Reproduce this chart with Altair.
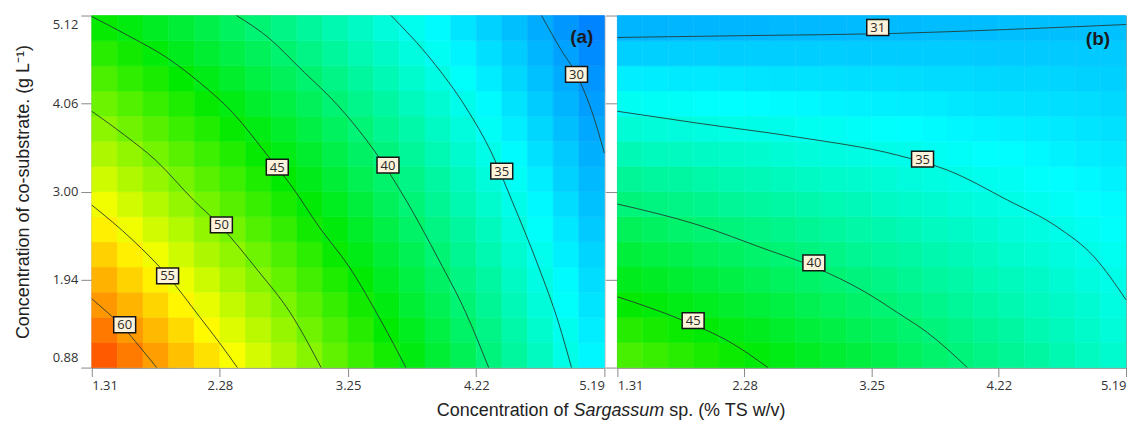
import altair as alt
import numpy as np
import pandas as pd

# ---------------- data ----------------
X_TICKS = [1.31, 2.28, 3.25, 4.22, 5.19]
Y_TICKS = [0.88, 1.94, 3.00, 4.06, 5.12]
X_RANGE = [1.31, 5.19]
Y_RANGE = [0.88, 5.12]

# response surface values, rows from bottom (0.88) to top (5.12), columns left to right
GRID_A = [
    [62.1, 60.7, 59.2, 57.7, 56.3, 54.8, 53.3, 51.8, 50.3, 48.8, 47.3, 45.8, 44.3, 42.8, 41.3, 39.7, 38.2, 36.7, 35.1, 33.6],
    [60.8, 59.4, 58.0, 56.6, 55.2, 53.7, 52.3, 50.9, 49.4, 48.0, 46.5, 45.0, 43.6, 42.1, 40.6, 39.2, 37.7, 36.2, 34.7, 33.2],
    [59.5, 58.2, 56.8, 55.4, 54.1, 52.7, 51.3, 49.9, 48.5, 47.1, 45.7, 44.3, 42.8, 41.4, 40.0, 38.6, 37.1, 35.7, 34.2, 32.8],
    [58.3, 56.9, 55.6, 54.3, 53.0, 51.6, 50.3, 48.9, 47.6, 46.2, 44.9, 43.5, 42.1, 40.7, 39.4, 38.0, 36.6, 35.2, 33.8, 32.4],
    [57.0, 55.7, 54.4, 53.1, 51.8, 50.6, 49.3, 48.0, 46.7, 45.3, 44.0, 42.7, 41.4, 40.0, 38.7, 37.4, 36.0, 34.7, 33.3, 32.0],
    [55.7, 54.4, 53.2, 52.0, 50.7, 49.5, 48.2, 47.0, 45.7, 44.5, 43.2, 41.9, 40.6, 39.4, 38.1, 36.8, 35.5, 34.2, 32.9, 31.5],
    [54.4, 53.2, 52.0, 50.8, 49.6, 48.4, 47.2, 46.0, 44.8, 43.6, 42.4, 41.1, 39.9, 38.7, 37.4, 36.2, 34.9, 33.7, 32.4, 31.1],
    [53.1, 51.9, 50.8, 49.7, 48.5, 47.4, 46.2, 45.0, 43.9, 42.7, 41.5, 40.4, 39.2, 38.0, 36.8, 35.6, 34.4, 33.2, 31.9, 30.7],
    [51.8, 50.7, 49.6, 48.5, 47.4, 46.3, 45.2, 44.1, 43.0, 41.8, 40.7, 39.6, 38.4, 37.3, 36.1, 35.0, 33.8, 32.6, 31.5, 30.3],
    [50.5, 49.4, 48.4, 47.3, 46.3, 45.2, 44.2, 43.1, 42.0, 40.9, 39.9, 38.8, 37.7, 36.6, 35.5, 34.4, 33.2, 32.1, 31.0, 29.9],
    [49.2, 48.2, 47.2, 46.2, 45.2, 44.2, 43.1, 42.1, 41.1, 40.1, 39.0, 38.0, 36.9, 35.9, 34.8, 33.8, 32.7, 31.6, 30.5, 29.5],
    [47.9, 46.9, 46.0, 45.0, 44.0, 43.1, 42.1, 41.1, 40.2, 39.2, 38.2, 37.2, 36.2, 35.2, 34.2, 33.1, 32.1, 31.1, 30.1, 29.0],
    [46.6, 45.7, 44.7, 43.8, 42.9, 42.0, 41.1, 40.2, 39.2, 38.3, 37.3, 36.4, 35.4, 34.5, 33.5, 32.5, 31.6, 30.6, 29.6, 28.6],
    [45.2, 44.4, 43.5, 42.7, 41.8, 40.9, 40.0, 39.2, 38.3, 37.4, 36.5, 35.6, 34.7, 33.8, 32.8, 31.9, 31.0, 30.1, 29.1, 28.2],
]

GRID_B = [
    [47.8, 47.2, 46.6, 46.0, 45.4, 44.7, 44.1, 43.5, 42.9, 42.3, 41.7, 41.0, 40.4, 39.8, 39.2, 38.6, 38.0, 37.4, 36.7, 36.1],
    [46.5, 45.9, 45.4, 44.8, 44.2, 43.7, 43.1, 42.5, 42.0, 41.4, 40.8, 40.3, 39.7, 39.1, 38.6, 38.0, 37.4, 36.9, 36.3, 35.7],
    [45.1, 44.6, 44.1, 43.6, 43.1, 42.6, 42.1, 41.5, 41.0, 40.5, 40.0, 39.5, 39.0, 38.4, 37.9, 37.4, 36.9, 36.4, 35.9, 35.3],
    [43.8, 43.4, 42.9, 42.4, 42.0, 41.5, 41.0, 40.6, 40.1, 39.6, 39.2, 38.7, 38.2, 37.8, 37.3, 36.8, 36.4, 35.9, 35.4, 35.0],
    [42.5, 42.1, 41.7, 41.2, 40.8, 40.4, 40.0, 39.6, 39.2, 38.7, 38.3, 37.9, 37.5, 37.1, 36.7, 36.2, 35.8, 35.4, 35.0, 34.6],
    [41.2, 40.8, 40.4, 40.1, 39.7, 39.3, 39.0, 38.6, 38.2, 37.8, 37.5, 37.1, 36.7, 36.4, 36.0, 35.6, 35.3, 34.9, 34.5, 34.2],
    [39.8, 39.5, 39.2, 38.9, 38.5, 38.2, 37.9, 37.6, 37.3, 37.0, 36.6, 36.3, 36.0, 35.7, 35.4, 35.1, 34.7, 34.4, 34.1, 33.8],
    [38.5, 38.2, 38.0, 37.7, 37.4, 37.1, 36.9, 36.6, 36.3, 36.1, 35.8, 35.5, 35.3, 35.0, 34.7, 34.5, 34.2, 33.9, 33.7, 33.4],
    [37.2, 36.9, 36.7, 36.5, 36.3, 36.1, 35.8, 35.6, 35.4, 35.2, 35.0, 34.8, 34.5, 34.3, 34.1, 33.9, 33.7, 33.4, 33.2, 33.0],
    [35.8, 35.7, 35.5, 35.3, 35.1, 35.0, 34.8, 34.6, 34.5, 34.3, 34.1, 34.0, 33.8, 33.6, 33.5, 33.3, 33.1, 33.0, 32.8, 32.6],
    [34.5, 34.4, 34.3, 34.1, 34.0, 33.9, 33.8, 33.7, 33.5, 33.4, 33.3, 33.2, 33.1, 32.9, 32.8, 32.7, 32.6, 32.5, 32.4, 32.2],
    [33.2, 33.1, 33.0, 33.0, 32.9, 32.8, 32.7, 32.7, 32.6, 32.5, 32.5, 32.4, 32.3, 32.3, 32.2, 32.1, 32.1, 32.0, 31.9, 31.8],
    [31.8, 31.8, 31.8, 31.8, 31.7, 31.7, 31.7, 31.7, 31.7, 31.6, 31.6, 31.6, 31.6, 31.6, 31.5, 31.5, 31.5, 31.5, 31.5, 31.5],
    [30.5, 30.5, 30.6, 30.6, 30.6, 30.6, 30.7, 30.7, 30.7, 30.8, 30.8, 30.8, 30.9, 30.9, 30.9, 31.0, 31.0, 31.0, 31.0, 31.1],
]

# contour lines (panel a)
CONT_A_LEVELS = [60, 55, 50, 45, 40, 35, 30]
CONT_A_X = [
    [1.310, 1.431, 1.544, 1.672, 1.801],
    [1.310, 1.619, 1.884, 2.125, 2.276, 2.412],
    [1.310, 1.559, 1.793, 2.080, 2.284, 2.563, 2.812, 3.046],
    [1.310, 1.597, 1.876, 2.125, 2.374, 2.639, 2.827, 3.031, 3.258, 3.507, 3.688],
    [2.405, 2.654, 2.880, 3.205, 3.529, 3.688, 3.937, 4.141, 4.314],
    [3.575, 3.884, 4.141, 4.337, 4.488, 4.692, 4.843, 4.941],
    [4.714, 4.865, 4.979, 5.092, 5.190],
]
CONT_A_Y = [
    [1.709, 1.541, 1.372, 1.132, 0.880],
    [2.838, 2.417, 1.985, 1.493, 1.180, 0.880],
    [3.967, 3.679, 3.378, 2.898, 2.586, 2.057, 1.541, 0.880],
    [5.108, 4.868, 4.615, 4.315, 3.955, 3.438, 3.054, 2.574, 2.093, 1.420, 0.880],
    [5.120, 4.844, 4.495, 3.979, 3.306, 2.898, 2.177, 1.541, 0.880],
    [5.120, 4.579, 4.015, 3.462, 2.898, 2.093, 1.420, 0.880],
    [5.120, 4.699, 4.411, 3.979, 3.462],
]
# contour lines (panel b)
CONT_B_LEVELS = [31, 35, 40, 45]
CONT_B_X = [
    [1.310, 2.383, 3.410, 4.285, 5.190],
    [1.310, 1.926, 2.687, 3.448, 3.828, 4.285, 4.665, 4.947, 5.190],
    [1.310, 1.926, 2.436, 2.809, 3.197, 3.448, 3.676, 3.980],
    [1.310, 1.797, 2.177, 2.459],
]
CONT_B_Y = [
    [4.856, 4.880, 4.904, 4.952, 5.012],
    [3.967, 3.823, 3.655, 3.438, 3.258, 2.898, 2.574, 2.213, 1.697],
    [2.850, 2.598, 2.309, 2.093, 1.793, 1.541, 1.300, 0.880],
    [1.733, 1.457, 1.180, 0.880],
]

# contour labels
LAB_A_TEXT = ["60", "55", "50", "45", "40", "35", "30"]
LAB_A_X = [1.559, 1.884, 2.291, 2.714, 3.552, 4.413, 4.979]
LAB_A_Y = [1.396, 1.985, 2.598, 3.294, 3.318, 3.246, 4.411]
LAB_B_TEXT = ["31", "35", "40", "45"]
LAB_B_X = [3.296, 3.638, 2.809, 1.888]
LAB_B_Y = [4.976, 3.390, 2.141, 1.445]

PANEL_TAGS = ["(a)", "(b)"]
Y_TITLE = "Concentration of co-substrate. (g L\u207b\u00b9)"
X_TITLE_PARTS = ["Concentration of", "Sargassum", "sp. (% TS w/v)"]

# ---------------- build tables ----------------
def grid_table(grid):
    ny, nx = len(grid), len(grid[0])
    xe = np.linspace(X_RANGE[0], X_RANGE[1], nx + 1)
    ye = np.linspace(Y_RANGE[0], Y_RANGE[1], ny + 1)
    rows = []
    for j, row in enumerate(grid):
        for i, z in enumerate(row):
            rows.append({"x0": xe[i], "x1": xe[i + 1], "y0": ye[j], "y1": ye[j + 1], "z": z})
    return pd.DataFrame(rows)


def contour_table(levels, xs, ys):
    rows = []
    for lev, xl, yl in zip(levels, xs, ys):
        for k, (x, y) in enumerate(zip(xl, yl)):
            rows.append({"level": str(lev), "x": x, "y": y, "k": k})
    return pd.DataFrame(rows)


def label_table(texts, xs, ys):
    return pd.DataFrame({"t": texts, "x": xs, "y": ys})


COLOR_SCALE = alt.Scale(
    domain=[22, 34, 45, 55, 66],
    range=["#0000ff", "#00ffff", "#00ea00", "#ffff00", "#ff0000"],
    interpolate="rgb",
)

H = 353
BOX = "M-1,-0.72L1,-0.72L1,0.72L-1,0.72Z"


def panel(grid, levels, cx, cy, ltext, lx, ly, tag, width, first):
    xscale = alt.Scale(domain=X_RANGE, nice=False, zero=False)
    yscale = alt.Scale(domain=Y_RANGE, nice=False, zero=False)
    xaxis = alt.Axis(values=X_TICKS, format=".2f", labelFlush=True, title=None,
                     tickSize=9, labelPadding=3, grid=False)
    if first:
        yaxis = alt.Axis(values=Y_TICKS, format=".2f", title=Y_TITLE, tickSize=11,
                         labelPadding=3, titlePadding=20, grid=False,
                         labelFlush=True, labelFlushOffset=-3)
    else:
        yaxis = alt.Axis(values=Y_TICKS, labels=False, title=None, tickSize=12, grid=False)

    heat = alt.Chart(grid_table(grid)).mark_rect(strokeWidth=0.6).encode(
        x=alt.X("x0:Q", scale=xscale, axis=xaxis),
        x2="x1:Q",
        y=alt.Y("y0:Q", scale=yscale, axis=yaxis),
        y2="y1:Q",
        color=alt.Color("z:Q", scale=COLOR_SCALE, legend=None),
        stroke=alt.Stroke("z:Q", scale=COLOR_SCALE, legend=None),
    )
    lines = alt.Chart(contour_table(levels, cx, cy)).mark_line(
        color="#24352c", strokeWidth=1, opacity=0.85, interpolate="monotone"
    ).encode(
        x=alt.X("x:Q", scale=xscale, axis=xaxis),
        y=alt.Y("y:Q", scale=yscale, axis=yaxis),
        detail="level:N",
        order="k:Q",
    )
    lab = label_table(ltext, lx, ly)
    boxes = alt.Chart(lab).mark_point(
        shape=BOX, size=484, filled=True, fill="#fcf3da", stroke="#151515",
        strokeWidth=1.5, opacity=1
    ).encode(
        x=alt.X("x:Q", scale=xscale, axis=xaxis),
        y=alt.Y("y:Q", scale=yscale, axis=yaxis),
    )
    texts = alt.Chart(lab).mark_text(
        font="Open Sans", fontSize=13, color="#2a2a2a", baseline="middle", dy=0.5
    ).encode(
        x=alt.X("x:Q", scale=xscale, axis=xaxis),
        y=alt.Y("y:Q", scale=yscale, axis=yaxis),
        text="t:N",
    )
    tagc = alt.Chart(pd.DataFrame({"t": [tag]})).mark_text(
        font="Liberation Sans", fontSize=19, fontWeight="bold", color="#1a1a22",
        align="right", baseline="alphabetic"
    ).encode(text="t:N", x=alt.value(width - (11 if first else 16)),
             y=alt.value(28 if first else 30))

    layers = [heat, lines, boxes, texts, tagc]
    if first:
        # x-axis title spanning both panels, with the genus name in italics
        x0 = 346
        parts = [
            (X_TITLE_PARTS[0], x0, "normal"),
            (X_TITLE_PARTS[1], x0 + 137, "italic"),
            (X_TITLE_PARTS[2], x0 + 233, "normal"),
        ]
        for txt, px, style in parts:
            layers.append(
                alt.Chart(pd.DataFrame({"t": [txt]})).mark_text(
                    font="Liberation Sans", fontSize=18, fontStyle=style, color="#222222",
                    align="left", baseline="alphabetic"
                ).encode(text="t:N", x=alt.value(px), y=alt.value(H + 49))
            )
    return alt.layer(*layers).properties(width=width, height=H)


pa = panel(GRID_A, CONT_A_LEVELS, CONT_A_X, CONT_A_Y, LAB_A_TEXT, LAB_A_X, LAB_A_Y,
           PANEL_TAGS[0], 514, True)
pb = panel(GRID_B, CONT_B_LEVELS, CONT_B_X, CONT_B_Y, LAB_B_TEXT, LAB_B_X, LAB_B_Y,
           PANEL_TAGS[1], 510, False)

chart = alt.hconcat(pa, pb, spacing=13, bounds="flush").properties(
    padding={"left": 5, "top": 4, "right": 0, "bottom": 0}
).configure_view(stroke="#9a9a9a", strokeWidth=1).configure_axis(
    domainColor="#8a8a8a", tickColor="#8a8a8a", domainWidth=1, tickWidth=1,
    labelFont="Open Sans", labelFontSize=13, labelColor="#333333",
    titleFont="Liberation Sans", titleFontSize=18, titleFontWeight="normal",
    titleColor="#222222",
)

chart.save("out.html", embed_options={"renderer": "svg", "actions": False})
